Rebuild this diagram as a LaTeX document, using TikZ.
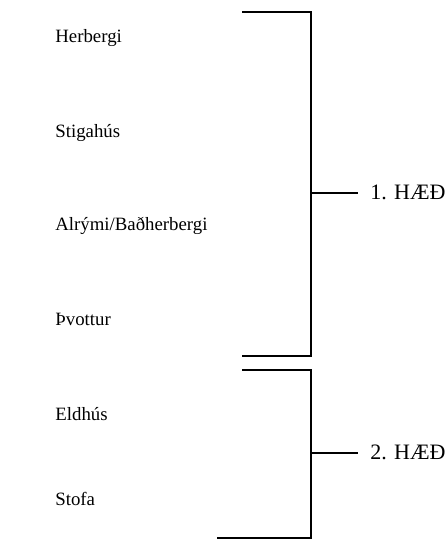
\documentclass[tikz,border=0pt]{standalone}
\usepackage{fontspec}
\setmainfont{Liberation Serif}

\begin{document}
\begin{tikzpicture}[x=0.5pt,y=-0.5pt,
		room/.style={anchor=base west,inner sep=0pt,font=\fontsize{9.4}{11}\selectfont},
		floor/.style={anchor=base west,inner xsep=6pt,inner ysep=0pt,font=\fontsize{11}{13}\selectfont},
		brace/.style={line width=0.65pt}]
		\useasboundingbox (0,0) rectangle (445,540);

		\node[room] (herb) at (55,43){Herbergi};
		\node[room] (stig) at (55,137){Stigahús};
		\node[room] (alr) at (55,230){Alrými/Baðherbergi};
		\node[room] (thv) at (55,325){Þvottur};
		\node[room] (eld) at (55,420){Eldhús};
		\node[room] (sto) at (55,505){Stofa};

		\node[floor] (f1) at (358,199){1. HÆÐ};
		\node[floor] (f2) at (358,459){2. HÆÐ};

		\coordinate (a1) at (242,12);
		\coordinate (b1) at (242,356);
		\coordinate (m1) at (311,193);
		\draw[brace] (a1) -| (m1) |- (b1);
		\draw[brace] (m1) -- (m1 -| f1.west);

		\coordinate (a2) at (242,370);
		\coordinate (b2) at (217,538);
		\coordinate (m2) at (311,453);
		\draw[brace] (a2) -| (m2) |- (b2);
		\draw[brace] (m2) -- (m2 -| f2.west);
	\end{tikzpicture}
\end{document}
